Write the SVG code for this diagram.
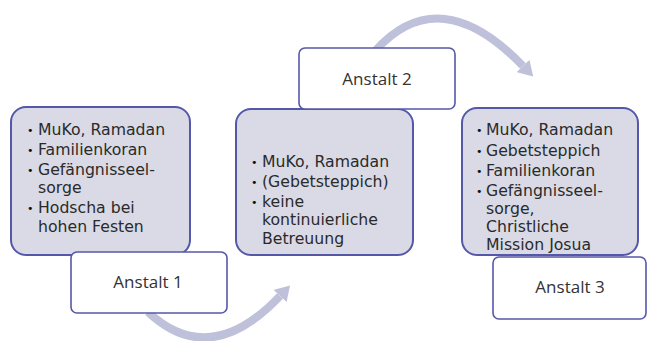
<svg xmlns="http://www.w3.org/2000/svg" width="648" height="341" viewBox="0 0 648 341">
  <style>
    .info { fill: #d9dae6; stroke: #5558a8; stroke-width: 2; }
    .title { fill: #ffffff; stroke: #5558a8; stroke-width: 1.6; }
    .txt { font-family: "DejaVu Sans", Verdana, sans-serif; font-size: 15.7px; fill: #2a2a2a; }
    .b { font-size: 11px; fill: #111111; }
    .ttl { font-family: "Open Sans", "Liberation Sans", sans-serif; font-size: 17px; fill: #333333; text-anchor: middle; }
    .arrow { fill: none; stroke: #bfc1da; stroke-width: 8; }
  </style>
  <defs>
    <marker id="head" markerUnits="userSpaceOnUse" markerWidth="16" markerHeight="18" refX="0" refY="8" orient="auto" viewBox="0 0 14 16">
      <path d="M0,0 L13,8 L0,16 z" fill="#bfc1da"/>
    </marker>
  </defs>
  <rect width="648" height="341" fill="#ffffff"/>

  <g id="connectors">
    <path class="arrow" d="M148,312 Q210,370 280,296" marker-end="url(#head)"/>
    <path class="arrow" d="M376,50 Q440,-20 523,66" marker-end="url(#head)"/>
  </g>

  <g id="box1">
    <rect class="info" x="11" y="107" width="179" height="148" rx="15"/>
    <g class="txt">
      <text class="b" x="27" y="134">•</text><text x="38" y="135">MuKo, Ramadan</text>
      <text class="b" x="27" y="154">•</text><text x="38" y="155">Familienkoran</text>
      <text class="b" x="27" y="174">•</text><text x="38" y="175">Gefängnisseel-</text>
      <text x="38" y="193">sorge</text>
      <text class="b" x="27" y="212">•</text><text x="38" y="213">Hodscha bei</text>
      <text x="38" y="232">hohen Festen</text>
    </g>
  </g>

  <g id="box2">
    <rect class="info" x="236" y="109" width="177" height="146" rx="15"/>
    <g class="txt">
      <text class="b" x="251" y="166">•</text><text x="262" y="167">MuKo, Ramadan</text>
      <text class="b" x="251" y="186">•</text><text x="262" y="187">(Gebetsteppich)</text>
      <text class="b" x="251" y="206">•</text><text x="262" y="207">keine</text>
      <text x="262" y="225">kontinuierliche</text>
      <text x="262" y="244">Betreuung</text>
    </g>
  </g>

  <g id="box3">
    <rect class="info" x="462" y="108" width="176" height="147" rx="15"/>
    <g class="txt">
      <text class="b" x="476" y="134">•</text><text x="486" y="135">MuKo, Ramadan</text>
      <text class="b" x="476" y="155">•</text><text x="486" y="156">Gebetsteppich</text>
      <text class="b" x="476" y="175">•</text><text x="486" y="176">Familienkoran</text>
      <text class="b" x="476" y="195">•</text><text x="486" y="196">Gefängnisseel-</text>
      <text x="486" y="214">sorge,</text>
      <text x="486" y="232">Christliche</text>
      <text x="486" y="250">Mission Josua</text>
    </g>
  </g>

  <g id="anstalt1">
    <rect class="title" x="71" y="252" width="156" height="61" rx="6"/>
    <text class="ttl" x="148" y="288">Anstalt 1</text>
  </g>

  <g id="anstalt2">
    <rect class="title" x="299" y="48" width="156" height="61" rx="6"/>
    <text class="ttl" x="377" y="85">Anstalt 2</text>
  </g>

  <g id="anstalt3">
    <rect class="title" x="493" y="257" width="153" height="62" rx="6"/>
    <text class="ttl" x="570" y="293">Anstalt 3</text>
  </g>
</svg>
